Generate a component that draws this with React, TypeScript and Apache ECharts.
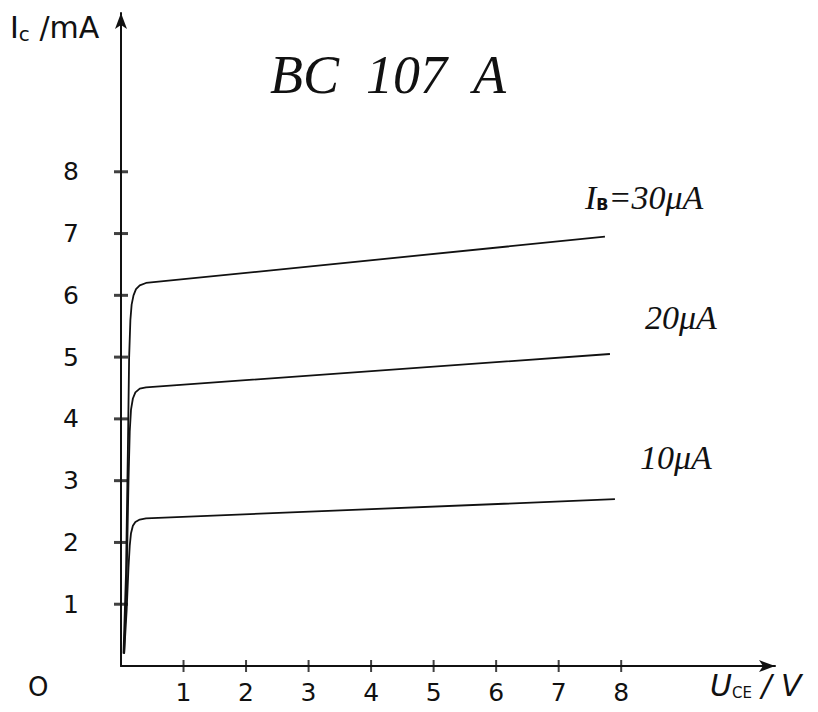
import React, { useEffect, useRef } from "react";
import * as echarts from "echarts";

const tickValues = [1, 2, 3, 4, 5, 6, 7, 8];

const ib30: number[][] = [
  [0.04, 0.2], [0.08, 1.5], [0.11, 3.5], [0.13, 5.0], [0.15, 5.6], [0.17, 5.85], [0.2, 6.0], [0.24, 6.1], [0.3, 6.16], [0.4, 6.2], [7.74, 6.95],
];
const ib20: number[][] = [
  [0.05, 0.2], [0.09, 1.4], [0.12, 3.0], [0.14, 3.8], [0.16, 4.15], [0.19, 4.33], [0.23, 4.43], [0.3, 4.49], [0.4, 4.51], [7.82, 5.05],
];
const ib10: number[][] = [
  [0.05, 0.2], [0.09, 0.9], [0.12, 1.6], [0.14, 1.95], [0.16, 2.15], [0.19, 2.27], [0.23, 2.33], [0.3, 2.37], [0.4, 2.39], [7.9, 2.7],
];

const FONT = "DejaVu Sans";
const HAND = "Liberation Serif";

export default function App() {
  const ref = useRef<HTMLDivElement>(null);
  useEffect(() => {
    if (!ref.current) return;
    const chart = echarts.init(ref.current, null, { renderer: "svg" });
    const lineStyle = { color: "#111", width: 1.8 };
    const curve = (name: string, data: number[][]) => ({
      name,
      type: "line",
      data,
      smooth: false,
      showSymbol: false,
      lineStyle,
      clip: false,
    });
    chart.setOption({
      animation: false,
      backgroundColor: "#fff",
      grid: { left: 121, right: 43, top: 13, bottom: 46, containLabel: false, outerBoundsMode: "none" },
      xAxis: {
        type: "value",
        min: 0,
        max: 10.46,
        interval: 1,
        splitLine: { show: false },
        axisTick: { show: false },
        axisLine: { lineStyle: { color: "#111", width: 2 }, symbol: ["none", "arrow"], symbolSize: [9, 16] },
        axisLabel: {
          customValues: tickValues,
          margin: 14,
          fontFamily: FONT,
          fontSize: 25,
          color: "#111",
        },
      },
      yAxis: {
        type: "value",
        min: 0,
        max: 10.57,
        interval: 1,
        splitLine: { show: false },
        axisTick: { show: false },
        axisLine: { lineStyle: { color: "#111", width: 2 }, symbol: ["none", "arrow"], symbolSize: [9, 16] },
        axisLabel: {
          customValues: tickValues,
          margin: 42,
          fontFamily: FONT,
          fontSize: 25,
          color: "#111",
        },
      },
      series: [
        curve("30µA", ib30),
        curve("20µA", ib20),
        curve("10µA", ib10),
        {
          type: "scatter",
          data: tickValues.map((v) => [v, 0]),
          symbol: "rect",
          symbolSize: [2, 12],
          itemStyle: { color: "#111" },
          clip: false,
          silent: true,
        },
        {
          type: "scatter",
          data: tickValues.map((v) => [0, v]),
          symbol: "rect",
          symbolSize: [14, 3],
          itemStyle: { color: "#111" },
          clip: false,
          silent: true,
        },
      ],
      graphic: [
        { type: "text", left: 28, top: 674, style: { text: "O", fontFamily: FONT, fontSize: 26, fill: "#111" } },
        {
          type: "text",
          left: 10,
          top: 12,
          style: {
            text: "{a|I}{b|c}{a| /mA}",
            fill: "#111",
            rich: {
              a: { fontFamily: FONT, fontSize: 30, fill: "#111" },
              b: { fontFamily: FONT, fontSize: 20, fill: "#111", padding: [14, 0, 0, 0] },
            },
          },
        },
        {
          type: "text",
          left: 710,
          top: 670,
          style: {
            text: "{a|U}{b|CE}{a| / V}",
            fill: "#111",
            rich: {
              a: { fontFamily: FONT, fontSize: 30, fontStyle: "italic", fill: "#111" },
              b: { fontFamily: FONT, fontSize: 15, fill: "#111", padding: [16, 0, 0, 0] },
            },
          },
        },
        {
          type: "text",
          left: 270,
          top: 48,
          style: { text: "BC  107  A", fontFamily: HAND, fontStyle: "italic", fontSize: 54, fill: "#111" },
        },
        {
          type: "text",
          left: 585,
          top: 180,
          style: {
            text: "{a|I}{b|B}{a|=30μA}",
            rich: {
              a: { fontFamily: HAND, fontStyle: "italic", fontSize: 34, fill: "#111" },
              b: { fontFamily: FONT, fontSize: 16, fontWeight: "bold", fill: "#111", padding: [14, 0, 0, 0] },
            },
          },
        },
        {
          type: "text",
          left: 645,
          top: 300,
          style: { text: "20μA", fontFamily: HAND, fontStyle: "italic", fontSize: 34, fill: "#111" },
        },
        {
          type: "text",
          left: 640,
          top: 440,
          style: { text: "10μA", fontFamily: HAND, fontStyle: "italic", fontSize: 34, fill: "#111" },
        },
      ],
    });
    return () => chart.dispose();
  }, []);
  return <div ref={ref} style={{ position: "absolute", left: 0, top: 0, width: 818, height: 712 }} />;
}
